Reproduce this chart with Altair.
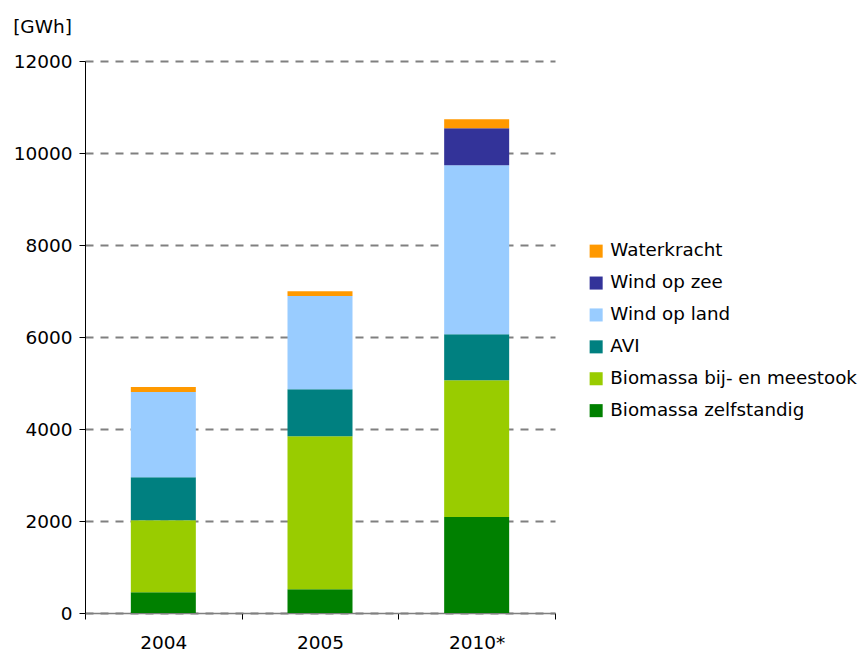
import altair as alt
import pandas as pd

years = ["2004", "2005", "2010*"]
series = ["Waterkracht", "Wind op zee", "Wind op land", "AVI",
          "Biomassa bij- en meestook", "Biomassa zelfstandig"]
colors = ["#FF9900", "#333399", "#99CCFF", "#008080", "#99CC00", "#008000"]

biomassa_zelfstandig = [450, 515, 2087]
biomassa_bij = [1565, 3327, 2972]
avi = [935, 1023, 1000]
wind_land = [1855, 2027, 3674]
wind_zee = [0, 0, 804]
waterkracht = [108, 102, 196]

values = {
    "Biomassa zelfstandig": biomassa_zelfstandig,
    "Biomassa bij- en meestook": biomassa_bij,
    "AVI": avi,
    "Wind op land": wind_land,
    "Wind op zee": wind_zee,
    "Waterkracht": waterkracht,
}
stack_order = ["Biomassa zelfstandig", "Biomassa bij- en meestook", "AVI",
               "Wind op land", "Wind op zee", "Waterkracht"]

rows = []
for s in stack_order:
    for i, y in enumerate(years):
        rows.append({"jaar": y, "bron": s, "GWh": values[s][i],
                     "volgorde": stack_order.index(s)})
df = pd.DataFrame(rows)

FONT = "DejaVu Sans"

chart = alt.Chart(df).mark_bar(size=65).encode(
    x=alt.X("jaar:N", sort=years, title=None,
            scale=alt.Scale(paddingInner=0, paddingOuter=0),
            axis=alt.Axis(labelAngle=0, tickBand="extent", tickSize=6,
                          tickColor="#000000", domainColor="#808080",
                          domainWidth=1.5, labelPadding=14, grid=False)),
    y=alt.Y("GWh:Q", title=None, stack="zero",
            scale=alt.Scale(domain=[0, 12000], nice=False),
            axis=alt.Axis(values=[0, 2000, 4000, 6000, 8000, 10000, 12000],
                          format="d",
                          tickSize=6, tickColor="#000000", domainColor="#000000",
                          domainWidth=1, labelPadding=7,
                          grid=True, gridColor="#808080", gridWidth=2,
                          gridDash=[8, 7])),
    color=alt.Color("bron:N", title=None,
                    scale=alt.Scale(domain=series, range=colors),
                    legend=alt.Legend(orient="none", legendX=502, legendY=181,
                                      symbolType="square", symbolSize=170,
                                      symbolStrokeWidth=0, labelFontSize=18.3,
                                      labelFont=FONT, labelColor="#000000",
                                      labelLimit=0,
                                      rowPadding=12.9, labelOffset=5)),
    order=alt.Order("volgorde:Q", sort="ascending"),
).properties(
    width=470, height=552,
    title=alt.TitleParams("[GWh]", anchor="start", frame="bounds",
                          font=FONT, fontSize=18.5, fontWeight="normal",
                          color="#000000", offset=16),
    autosize=alt.AutoSizeParams(type="none"),
    padding={"left": 85, "top": 61, "right": 309, "bottom": 40},
).configure_axis(
    labelFont=FONT, labelFontSize=18.5, labelColor="#000000",
).configure_view(stroke=None)

chart.save("out.html", embed_options={"renderer": "svg", "actions": False})
